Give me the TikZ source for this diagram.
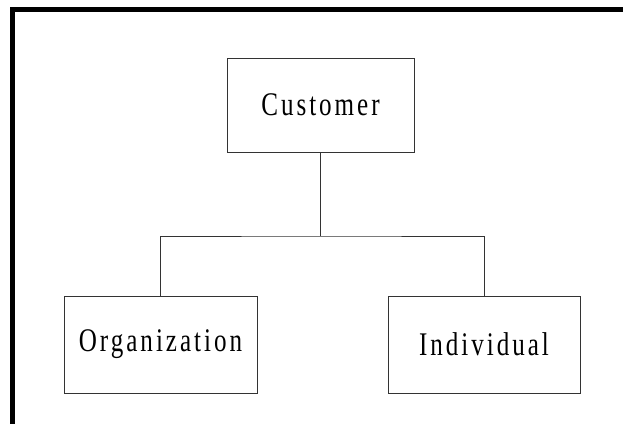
\documentclass[tikz,border=0pt]{standalone}
\usepackage{fontspec}
\setmainfont{Liberation Serif}[FakeStretch=0.76,LetterSpace=9]
\begin{document}
\begin{tikzpicture}[x=1pt,y=-1pt,
  entity/.style={draw=black!80,line width=1pt,rectangle,inner sep=0pt,
    font=\fontsize{33}{36}\selectfont},
  link/.style={draw=black!80,line width=1pt}]
\useasboundingbox (0,0) rectangle (623,424);
\fill[black] (10,7) rectangle (623,12);
\fill[black] (10,7) rectangle (15,424);
\node[entity,minimum width=187pt,minimum height=94pt] (cust) at (320.5,105) {Customer};
\node[entity,minimum width=193pt,minimum height=97pt] (org) at (160.5,344.5) {Organization};
\node[entity,minimum width=192pt,minimum height=97pt] (ind) at (484,344.5) {Individual};
\coordinate (j) at (320.5,236);
\draw[link] (cust.south) -- (j);
\draw[link] (org.north) |- (j) -| (ind.north);
\end{tikzpicture}
\end{document}
